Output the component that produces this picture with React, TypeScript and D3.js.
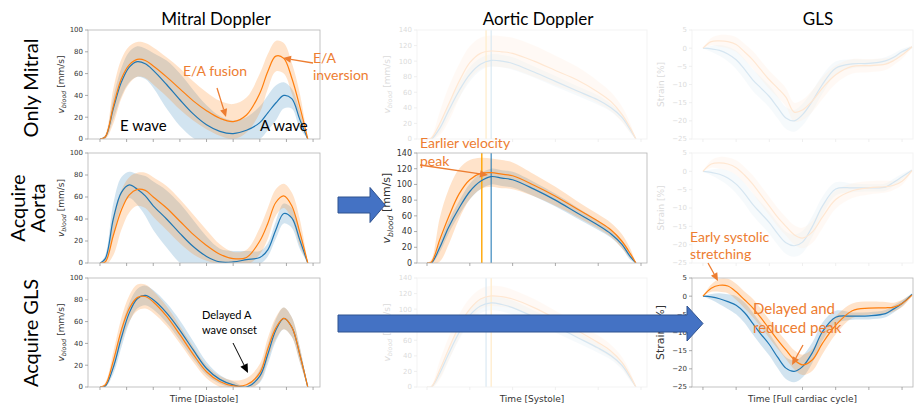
import * as React from 'react';
import * as d3 from 'd3';

// time grids (in x-tick units)
const mitralT = [0, 0.2, 0.5, 0.8, 1.1, 1.4, 1.7, 2.0, 2.5, 3.0, 3.5, 4.0, 4.5, 5.0, 5.5, 6.0, 6.3, 6.6, 6.9, 7.2, 7.5, 7.8];
const aorticT = [0, 0.1, 0.3, 0.5, 0.75, 1.0, 1.25, 1.5, 1.75, 2.0, 2.5, 3.0, 3.5, 4.0, 4.3, 4.55, 4.75, 4.88];
const glsT = [0, 0.25, 0.5, 0.75, 1.0, 1.25, 1.5, 1.75, 2.0, 2.25, 2.5, 2.75, 3.0, 3.3, 3.6, 4.0, 4.5, 5.0, 5.5, 5.75, 6.0, 6.3];

// row 1: only mitral
const onlyMitralBlue = [0, 2, 28, 52, 66, 71, 69, 63, 50, 36, 23, 13, 7, 5, 8, 15, 24, 33, 40, 37, 18, 0];
const onlyMitralBlueSd = [0, 1, 10, 13, 14, 14, 14, 16, 22, 24, 22, 18, 14, 12, 12, 15, 16, 16, 12, 9, 8, 0];
const onlyMitralOrange = [0, 2, 30, 55, 68, 73, 72, 67, 57, 46, 35, 26, 19, 16, 22, 42, 62, 76, 74, 56, 30, 0];
const onlyMitralOrangeSd = [0, 2, 16, 18, 17, 16, 16, 17, 18, 19, 18, 17, 16, 16, 16, 18, 16, 14, 14, 14, 12, 0];
const onlyAorticBlue = [0, 0, 14, 36, 62, 83, 96, 101, 100, 97, 86, 74, 62, 50, 40, 28, 12, 0];
const onlyAorticBlueSd = [0, 1, 6, 8, 9, 9, 8, 8, 8, 8, 7, 7, 6, 6, 5, 5, 4, 0];
const onlyAorticOrange = [0, 1, 20, 44, 74, 98, 110, 113, 112, 110, 100, 88, 76, 60, 48, 32, 14, 0];
const onlyAorticOrangeSd = [0, 2, 15, 22, 22, 21, 20, 20, 20, 20, 20, 19, 17, 14, 12, 10, 6, 0];
const onlyGlsBlue = [0, -0.2, -0.6, -1.6, -3.2, -5.8, -8.7, -11, -13.3, -16.3, -19.2, -20, -18.3, -14.5, -10, -5.5, -4.3, -4.2, -3.5, -2.5, -1, 0.3];
const onlyGlsBlueSd = [0, 0.8, 1.5, 2, 2.5, 2.8, 3, 3, 3, 3, 3, 3, 3, 2.8, 2.5, 1.8, 1.2, 1, 1, 1, 0.8, 0.3];
const onlyGlsOrange = [0, 1.8, 2, 1.8, 1, -1, -3.2, -6, -8.7, -11, -13.5, -17.6, -17, -14.5, -11, -7.3, -5, -4.8, -4.4, -3.4, -1.9, 0.4];
const onlyGlsOrangeSd = [0, 1, 1.6, 1.8, 2, 2.2, 2.4, 2.5, 2.5, 2.5, 2.5, 2.6, 2.8, 3, 3, 2.5, 2, 1.8, 1.6, 1.2, 1, 0.3];

// row 2: acquire aorta
const aortaMitralBlue = [0, 4, 40, 64, 71, 67, 61, 52, 40, 27, 15, 6, 1, 1, 3, 5, 12, 30, 45, 41, 21, 0];
const aortaMitralBlueSd = [0, 3, 14, 14, 12, 14, 18, 22, 26, 27, 24, 18, 12, 10, 8, 6, 6, 8, 9, 9, 8, 0];
const aortaMitralOrange = [0, 1, 25, 48, 62, 67, 66, 60, 50, 38, 26, 16, 8, 4, 5, 20, 36, 55, 61, 52, 28, 0];
const aortaMitralOrangeSd = [0, 3, 18, 18, 16, 15, 16, 18, 20, 20, 18, 14, 9, 6, 7, 12, 14, 12, 11, 12, 12, 0];
const aortaAorticBlue = [0, 0, 20, 45, 70, 91, 104, 110, 108, 106, 94, 80, 64, 48, 37, 24, 8, 0];
const aortaAorticBlueSd = [0, 1, 6, 8, 9, 10, 10, 10, 10, 10, 9, 8, 7, 6, 5, 5, 4, 0];
const aortaAorticOrange = [0, 1, 30, 58, 88, 106, 114, 115, 113, 111, 99, 85, 69, 53, 42, 28, 12, 0];
const aortaAorticOrangeSd = [0, 3, 28, 35, 32, 25, 20, 18, 18, 17, 14, 12, 10, 9, 9, 9, 6, 0];
const aortaGlsBlue = [0, -0.3, -0.8, -1.8, -3.5, -6, -9, -11.5, -14, -17, -19.5, -20.3, -19.3, -15, -9.5, -4.8, -4.5, -4.5, -4.3, -3, -1.5, 0.3];
const aortaGlsBlueSd = [0, 0.8, 1.5, 2, 2.5, 2.8, 3, 3, 3, 3, 3, 3, 3, 2.8, 2.5, 1.8, 1.2, 1, 1, 1, 0.8, 0.3];
const aortaGlsOrange = [0, 2, 2.3, 2, 1, -1, -3.5, -6.5, -9.5, -12.5, -15, -17.3, -18.2, -16.5, -12.5, -7.7, -5.3, -4.5, -4.2, -3.8, -2.7, 0.2];
const aortaGlsOrangeSd = [0, 1, 1.6, 1.8, 2, 2.2, 2.4, 2.5, 2.5, 2.5, 2.5, 2.6, 2.8, 3, 3, 2.5, 2, 1.8, 1.6, 1.2, 1, 0.3];

// row 3: acquire GLS
const glsMitralBlue = [0, 1, 18, 45, 68, 81, 84, 80, 68, 52, 34, 17, 7, 2, 0, 10, 30, 52, 63, 55, 30, 0];
const glsMitralBlueSd = [0, 1, 6, 9, 9, 9, 9, 9, 9, 9, 8, 6, 4, 3, 1, 6, 9, 10, 10, 9, 7, 0];
const glsMitralOrange = [0, 2, 24, 52, 72, 82, 83, 78, 65, 48, 30, 14, 5, 1, 2, 13, 35, 54, 63, 55, 30, 0];
const glsMitralOrangeSd = [0, 2, 8, 11, 12, 12, 11, 10, 9, 8, 7, 6, 5, 5, 6, 8, 10, 10, 10, 9, 7, 0];
const glsAorticBlue = [0, 0, 18, 42, 70, 92, 104, 108, 106, 102, 90, 78, 64, 50, 40, 28, 12, 0];
const glsAorticBlueSd = [0, 1, 6, 8, 9, 9, 9, 9, 9, 9, 8, 8, 7, 6, 5, 5, 4, 0];
const glsAorticOrange = [0, 0, 22, 48, 78, 100, 113, 117, 116, 113, 102, 88, 73, 57, 46, 32, 14, 0];
const glsAorticOrangeSd = [0, 2, 12, 15, 15, 14, 13, 13, 13, 12, 11, 10, 9, 9, 8, 7, 5, 0];
const glsGlsBlue = [0, -0.2, -0.7, -1.5, -2.5, -4.5, -7.5, -10.5, -13.3, -16.8, -19.8, -20.7, -19.4, -15.5, -9.8, -5.8, -5.5, -5.4, -4.8, -3.5, -2, 0.5];
const glsGlsBlueSd = [0, 0.8, 1.5, 2, 2.5, 2.8, 3, 3, 3, 3, 3, 3, 3, 2.8, 2.5, 1.8, 1, 1, 1, 1, 0.8, 0.3];
const glsGlsOrange = [0, 2.2, 3, 2.8, 1.2, -1, -3.2, -6, -9, -12, -14.8, -17.5, -18.9, -17.5, -13, -8, -4, -3.3, -3.2, -3, -2, 0.3];
const glsGlsOrangeSd = [0, 1, 1.8, 2, 2.2, 2.3, 2.5, 2.5, 2.5, 2.5, 2.5, 2.6, 2.8, 3, 3, 2.5, 2, 1.8, 1.6, 1.2, 1, 0.3];

// aortic peak markers per row
const aorticPeakBlue = [1.5, 1.5, 1.38];
const aorticPeakOrange = [1.38, 1.28, 1.5];

const mitralYTicks = [0, 20, 40, 60, 80, 100];
const aorticYTicks = [0, 20, 40, 60, 80, 100, 120, 140];
const glsYTicks = [-25, -20, -15, -10, -5, 0, 5];
const mitralXTicks = d3.range(0, 9);
const aorticXTicks = d3.range(0, 6);
const glsXTicks = d3.range(0, 7);

const colTitles = ['Mitral Doppler', 'Aortic Doppler', 'GLS'];
const xLabels = ['Time [Diastole]', 'Time [Systole]', 'Time [Full cardiac cycle]'];

const BLUE = '#1f77b4';
const ORANGE = '#ff7f0e';
const NOTE = '#ED7D31';
const MPL = 'DejaVu Sans, sans-serif';
const PPT = 'Lato, "Open Sans", sans-serif';

const COLS = [
  { x0: 88, x1: 320, dom: [-0.45, 8.26], yDom: [0, 100], yTicks: mitralYTicks, xTicks: mitralXTicks, t: mitralT },
  { x0: 417, x1: 647, dom: [-0.234, 5.14], yDom: [0, 140], yTicks: aorticYTicks, xTicks: aorticXTicks, t: aorticT },
  { x0: 692, x1: 913, dom: [-0.33, 6.33], yDom: [-25, 5], yTicks: glsYTicks, xTicks: glsXTicks, t: glsT },
];
const ROWS = [{ y0: 30, y1: 139 }, { y0: 153, y1: 263 }, { y0: 278, y1: 387 }];

const panels = [
  { row: 0, col: 0, faded: false, b: onlyMitralBlue, bs: onlyMitralBlueSd, o: onlyMitralOrange, os: onlyMitralOrangeSd },
  { row: 0, col: 1, faded: true, b: onlyAorticBlue, bs: onlyAorticBlueSd, o: onlyAorticOrange, os: onlyAorticOrangeSd },
  { row: 0, col: 2, faded: true, b: onlyGlsBlue, bs: onlyGlsBlueSd, o: onlyGlsOrange, os: onlyGlsOrangeSd },
  { row: 1, col: 0, faded: false, b: aortaMitralBlue, bs: aortaMitralBlueSd, o: aortaMitralOrange, os: aortaMitralOrangeSd },
  { row: 1, col: 1, faded: false, b: aortaAorticBlue, bs: aortaAorticBlueSd, o: aortaAorticOrange, os: aortaAorticOrangeSd },
  { row: 1, col: 2, faded: true, b: aortaGlsBlue, bs: aortaGlsBlueSd, o: aortaGlsOrange, os: aortaGlsOrangeSd },
  { row: 2, col: 0, faded: false, b: glsMitralBlue, bs: glsMitralBlueSd, o: glsMitralOrange, os: glsMitralOrangeSd },
  { row: 2, col: 1, faded: true, b: glsAorticBlue, bs: glsAorticBlueSd, o: glsAorticOrange, os: glsAorticOrangeSd },
  { row: 2, col: 2, faded: false, b: glsGlsBlue, bs: glsGlsBlueSd, o: glsGlsOrange, os: glsGlsOrangeSd },
];

const smooth = d3.curveCatmullRom.alpha(0.5);

function YLabel({ col, cx, cy, size }) {
  if (col === 2) {
    return (
      <text transform={`translate(${cx},${cy}) rotate(-90)`} textAnchor="middle" fontFamily={MPL} fontSize={size} fill="#333">
        Strain [%]
      </text>
    );
  }
  return (
    <text transform={`translate(${cx},${cy}) rotate(-90)`} textAnchor="middle" fontFamily={MPL} fontSize={size} fill="#333">
      <tspan fontStyle="italic">v</tspan>
      <tspan fontStyle="italic" fontSize={size * 0.7} dy={size * 0.25}>blood</tspan>
      <tspan dy={-size * 0.25}> [mm/s]</tspan>
    </text>
  );
}

function Panel({ p }) {
  const c = COLS[p.col];
  const r = ROWS[p.row];
  const x = d3.scaleLinear().domain(c.dom).range([c.x0, c.x1]);
  const y = d3.scaleLinear().domain(c.yDom).range([r.y1, r.y0]);
  const band = (m, s) =>
    d3.area<number>()
      .x((_, i) => x(c.t[i]))
      .y0((d, i) => y(d - s[i]))
      .y1((d, i) => y(d + s[i]))
      .curve(smooth)(m);
  const line = d3.line<number>().x((_, i) => x(c.t[i])).y((d) => y(d)).curve(smooth);
  const id = `clip-${p.row}-${p.col}`;
  const fmt = (v) => (v < 0 ? '\u2212' + Math.abs(v) : String(v));
  const big = p.col === 1 && p.row === 1;
  return (
    <g opacity={p.faded ? 0.18 : 1}>
      <clipPath id={id}>
        <rect x={c.x0} y={r.y0} width={c.x1 - c.x0} height={r.y1 - r.y0} />
      </clipPath>
      <g clipPath={`url(#${id})`}>
        <path d={band(p.b, p.bs)} fill={BLUE} fillOpacity={0.2} />
        <path d={band(p.o, p.os)} fill={ORANGE} fillOpacity={0.22} />
        {p.col === 1 && (
          <>
            <line x1={x(aorticPeakOrange[p.row])} x2={x(aorticPeakOrange[p.row])} y1={r.y0} y2={r.y1} stroke="#FFA500" strokeWidth={1.4} />
            <line x1={x(aorticPeakBlue[p.row])} x2={x(aorticPeakBlue[p.row])} y1={r.y0} y2={r.y1} stroke={BLUE} strokeOpacity={0.75} strokeWidth={1.4} />
          </>
        )}
        <path d={line(p.b)} fill="none" stroke={BLUE} strokeWidth={1.2} />
        <path d={line(p.o)} fill="none" stroke={ORANGE} strokeWidth={1.2} />
      </g>
      <rect x={c.x0} y={r.y0} width={c.x1 - c.x0} height={r.y1 - r.y0} fill="none" stroke="#b5b5b5" strokeWidth={0.8} />
      {c.yTicks.map((v) => (
        <g key={v}>
          <line x1={c.x0 - 3} x2={c.x0} y1={y(v)} y2={y(v)} stroke="#888" strokeWidth={0.7} />
          <text x={c.x0 - 5} y={y(v)} dy="0.35em" textAnchor="end" fontFamily={MPL} fontSize={big ? 8 : 7} fill="#333">
            {fmt(v)}
          </text>
        </g>
      ))}
      {c.xTicks.map((v) => (
        <line key={v} x1={x(v)} x2={x(v)} y1={r.y1} y2={r.y1 + 3} stroke="#888" strokeWidth={0.7} />
      ))}
      <YLabel col={p.col} cx={c.x0 - (p.col === 0 ? 24 : p.col === 1 ? 27 : 28)} cy={(r.y0 + r.y1) / 2} size={big || (p.row === 2 && p.col === 2) ? 11 : 9} />
    </g>
  );
}

function Arrow({ x1, y1, x2, y2, color, w = 1.3, head = 8 }) {
  const a = Math.atan2(y2 - y1, x2 - x1);
  const hw = head * 0.45;
  const bx = x2 - head * Math.cos(a);
  const by = y2 - head * Math.sin(a);
  const pts = [
    [x2, y2],
    [bx + hw * Math.sin(a), by - hw * Math.cos(a)],
    [bx - hw * Math.sin(a), by + hw * Math.cos(a)],
  ];
  return (
    <g>
      <line x1={x1} y1={y1} x2={bx} y2={by} stroke={color} strokeWidth={w} />
      <polygon points={pts.map((q) => q.join(',')).join(' ')} fill={color} />
    </g>
  );
}

function BlockArrow({ x0, x1, tip, yc, body, head }) {
  const pts = [
    [x0, yc - body / 2], [x1, yc - body / 2], [x1, yc - head / 2], [tip, yc],
    [x1, yc + head / 2], [x1, yc + body / 2], [x0, yc + body / 2],
  ];
  return <polygon points={pts.map((q) => q.join(',')).join(' ')} fill="#4472C4" stroke="#2F528F" strokeWidth={1} />;
}

export default function App() {
  const titleX = [216, 538, 818];
  const rowLabel = { fontFamily: PPT, fontSize: 20, fill: '#000', textAnchor: 'middle' as const };
  const note = { fontFamily: PPT, fontSize: 14, fill: NOTE };
  return (
    <svg width={915} height={409} style={{ position: 'absolute', left: 0, top: 0, background: '#fff' }}>
      {colTitles.map((t, i) => (
        <text key={t} x={titleX[i]} y={25} textAnchor="middle" fontFamily={PPT} fontSize={17} fill="#000">{t}</text>
      ))}
      <text transform="translate(38,88) rotate(-90)" {...rowLabel}>Only Mitral</text>
      <text transform="translate(25,208) rotate(-90)" {...rowLabel}>Acquire</text>
      <text transform="translate(45,208) rotate(-90)" {...rowLabel}>Aorta</text>
      <text transform="translate(38,333) rotate(-90)" {...rowLabel}>Acquire GLS</text>

      {panels.map((p) => <Panel key={`${p.row}-${p.col}`} p={p} />)}

      {xLabels.map((t, i) => (
        <text key={t} x={(COLS[i].x0 + COLS[i].x1) / 2} y={402} textAnchor="middle" fontFamily={MPL} fontSize={9} fill="#333">{t}</text>
      ))}

      <text x={120} y={131} fontFamily={PPT} fontSize={15} fill="#000">E wave</text>
      <text x={260} y={131} fontFamily={PPT} fontSize={15} fill="#000">A wave</text>
      <text x={215} y={76} textAnchor="middle" {...note}>E/A fusion</text>
      <Arrow x1={217} y1={88} x2={226} y2={117} color={NOTE} />
      <text x={313} y={63} {...note}>E/A</text>
      <text x={313} y={80} {...note}>inversion</text>
      <Arrow x1={313} y1={63} x2={283} y2={58} color={NOTE} />

      <text x={420} y={148} {...note}>Earlier velocity</text>
      <text x={420} y={166} {...note}>peak</text>
      <Arrow x1={420} y1={165} x2={488} y2={175} color={NOTE} />

      <text x={690} y={242} {...note}>Early systolic</text>
      <text x={690} y={259} {...note}>stretching</text>
      <Arrow x1={708} y1={263} x2={718} y2={281} color={NOTE} />

      <text x={753} y={314} {...note} fontSize={15}>Delayed and</text>
      <text x={753} y={333} {...note} fontSize={15}>reduced peak</text>
      <Arrow x1={803} y1={345} x2={792} y2={365} color={NOTE} />

      <text x={202} y={319} fontFamily={PPT} fontSize={11} fill="#000">Delayed A</text>
      <text x={202} y={334} fontFamily={PPT} fontSize={11} fill="#000">wave onset</text>
      <Arrow x1={233} y1={343} x2={248} y2={373} color="#000" w={1} head={9} />

      <BlockArrow x0={338} x1={370} tip={385} yc={205} body={16} head={35} />
      <BlockArrow x0={338} x1={687} tip={703} yc={323.5} body={17} head={35} />
    </svg>
  );
}
